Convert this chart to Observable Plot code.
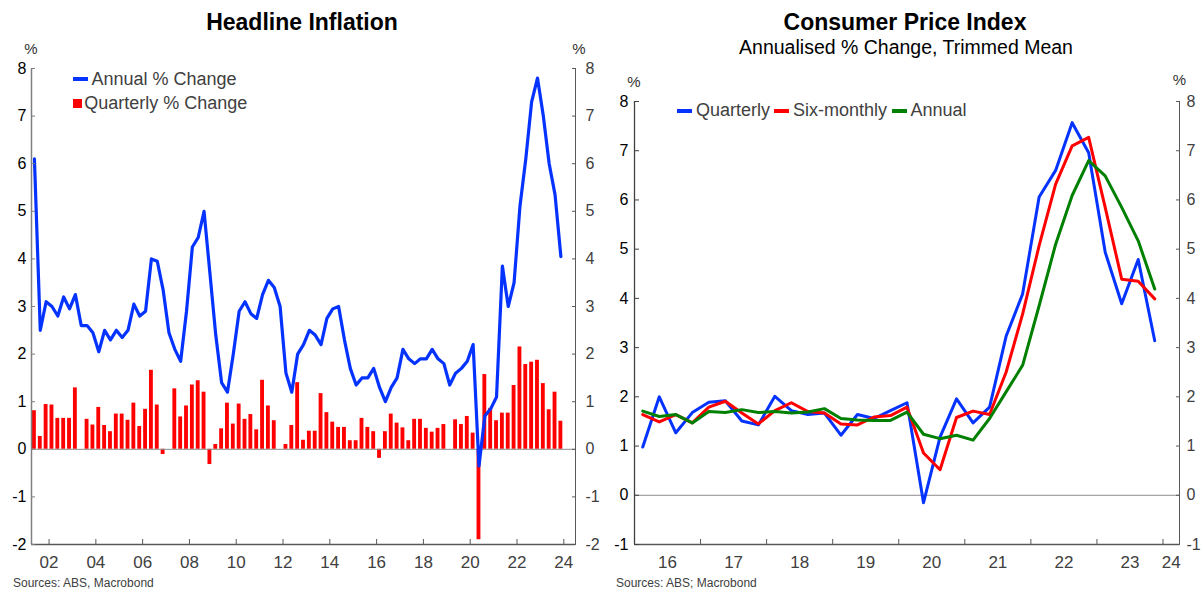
<!DOCTYPE html>
<html>
<head>
<meta charset="utf-8">
<script src="https://cdn.jsdelivr.net/npm/d3@7"></script>
<script src="https://cdn.jsdelivr.net/npm/@observablehq/plot@0.6"></script>
<style>
  html, body { margin: 0; padding: 0; background: #fff; }
  #root { position: relative; width: 1203px; height: 591px; overflow: hidden; font-family: "Liberation Sans", Arial, sans-serif; }
  .abs { position: absolute; white-space: nowrap; line-height: 1; }
  .ctr { transform: translateX(-50%); }
  .title { font-weight: bold; font-size: 23px; color: #000; }
  .sub { font-size: 19.5px; color: #000; }
  .pct { font-size: 15px; color: #333; }
  .leg { font-size: 18px; color: #404040; }
  .src { font-size: 12px; color: #404040; }
  .sw { position: absolute; }
  svg { position: absolute; top: 0; overflow: visible; }
</style>
</head>
<body>
<div id="root"></div>
<script>
// ---------------- DATA ----------------
// Headline Inflation: quarterly observations from 2001 Q2 to 2023 Q4
const headlineStart = [2001, 2];
const headlineAnnual = [6.1,2.5,3.1,3.0,2.8,3.2,2.95,3.25,2.6,2.6,
  2.45,2.05,2.5,2.3,2.5,2.35,2.5,3.05,2.8,2.9,
  4.0,3.95,3.35,2.45,2.1,1.85,2.9,4.25,4.45,5.0,
  3.7,2.4,1.4,1.2,2.0,2.9,3.1,2.85,2.75,3.25,
  3.55,3.4,3.0,1.6,1.2,2.0,2.2,2.5,2.4,2.2,
  2.75,2.95,3.0,2.3,1.7,1.35,1.5,1.5,1.7,1.3,
  1.0,1.3,1.5,2.1,1.9,1.8,1.9,1.9,2.1,1.9,
  1.8,1.35,1.6,1.7,1.85,2.2,-0.35,0.7,0.85,1.1,
  3.85,3.0,3.5,5.1,6.1,7.3,7.8,7.0,6.0,5.35,4.05];
const headlineQuarterly = [0.81,0.27,0.94,0.93,0.65,0.65,0.65,1.29,0,0.63,
  0.51,0.88,0.50,0.37,0.74,0.74,0.61,0.97,0.48,0.84,
  1.66,0.93,-0.11,0,1.27,0.68,0.91,1.35,1.44,1.2,
  -0.32,0.1,0.43,0.97,0.53,0.95,0.63,0.73,0.41,1.45,
  0.91,0.6,0,0.1,0.5,1.4,0.19,0.38,0.38,1.17,
  0.77,0.57,0.46,0.46,0.18,0.18,0.65,0.46,0.37,-0.19,
  0.37,0.74,0.55,0.45,0.18,0.63,0.63,0.44,0.36,0.44,
  0.52,0,0.62,0.52,0.69,0.34,-1.9,1.57,0.86,0.6,
  0.76,0.76,1.34,2.15,1.78,1.83,1.87,1.38,0.83,1.2,0.59];

// Consumer Price Index, trimmed mean annualised: 2016 Q1 to 2023 Q4
const tmStart = [2016, 1];
const tmQuarterly = [0.98,2.0,1.27,1.68,1.89,1.92,1.51,1.43,2.01,1.72,1.64,1.67,1.22,1.64,1.56,1.72,
  1.88,-0.15,1.18,1.96,1.47,1.79,3.23,4.09,6.06,6.6,7.57,6.96,4.94,3.89,4.79,3.14];
const tmSixMonthly = [1.64,1.49,1.64,1.47,1.79,1.91,1.67,1.45,1.72,1.88,1.70,1.67,1.45,1.43,1.59,1.62,
  1.79,0.86,0.52,1.58,1.71,1.64,2.5,3.68,5.07,6.32,7.1,7.27,5.85,4.39,4.35,3.99];
const tmAnnual = [1.71,1.6,1.64,1.47,1.70,1.68,1.74,1.68,1.70,1.67,1.69,1.76,1.56,1.53,1.52,1.52,
  1.69,1.24,1.15,1.22,1.12,1.56,2.1,2.64,3.85,5.1,6.09,6.8,6.49,5.85,5.17,4.19];

// Tick values and labels
const leftYTicks = [-2,-1,0,1,2,3,4,5,6,7,8];
const leftXTicks = [2002,2004,2006,2008,2010,2012,2014,2016,2018,2020,2022,2024];
const leftXLabels = ["02","04","06","08","10","12","14","16","18","20","22","24"];
const rightYTicks = [-1,0,1,2,3,4,5,6,7,8];
const rightYearStarts = [2016,2017,2018,2019,2020,2021,2022,2023,2024];
const rightXLabels = ["16","17","18","19","20","21","22","23","24"];
const rightXTicks = [2017,2018,2019,2020,2021,2022,2023,2024];

const leftXDomain = [2001.25, 2024.5];
const leftYDomain = [-2, 8];
const rightXDomain = [2016, 2024.25];
const rightYDomain = [-1, 8];

// ---------------- HELPERS ----------------
const BLUE = "#0433ff", RED = "#ff0000", GREEN = "#008000";
const FONT = "Liberation Sans, Arial, sans-serif";

function quarterRows(start, n) {
  return Array.from({length: n}, (_, i) => {
    const t0 = start[0] + (start[1] - 1 + i) / 4;
    return {t0, t1: t0 + 0.25, t: t0 + 0.125};
  });
}
const hRows = quarterRows(headlineStart, headlineAnnual.length).map((r, i) => ({
  ...r, annual: headlineAnnual[i], quarterly: headlineQuarterly[i]
}));
const tmRowsBase = quarterRows(tmStart, tmQuarterly.length);
const tmLong = [
  ...tmRowsBase.map((r, i) => ({t: r.t, v: tmQuarterly[i], s: "Quarterly"})),
  ...tmRowsBase.map((r, i) => ({t: r.t, v: tmSixMonthly[i], s: "Six-monthly"})),
  ...tmRowsBase.map((r, i) => ({t: r.t, v: tmAnnual[i], s: "Annual"}))
];
const rightLabelPos = rightYearStarts.map(y => (Math.max(y, rightXDomain[0]) + Math.min(y + 1, rightXDomain[1])) / 2);

// ---------------- LEFT CHART ----------------
const leftPlot = Plot.plot({
  width: 600, height: 591,
  marginLeft: 31, marginRight: 25, marginTop: 68, marginBottom: 47,
  x: {domain: leftXDomain},
  y: {domain: leftYDomain},
  style: {background: "transparent", fontFamily: FONT},
  marks: [
    Plot.rectY(hRows, {x1: "t0", x2: "t1", y: "quarterly", fill: RED, insetLeft: 1, insetRight: 1}),
    Plot.ruleY([0], {stroke: "#8c8c8c", strokeWidth: 1}),
    Plot.lineY(hRows, {x: "t", y: "annual", stroke: BLUE, strokeWidth: 3.2}),
    Plot.ruleX([leftXDomain[0]], {stroke: "#7f7f7f", strokeWidth: 1.5}),
    Plot.ruleX([leftXDomain[1]], {stroke: "#595959", strokeWidth: 1}),
    Plot.ruleY([leftYDomain[0]], {stroke: "#595959", strokeWidth: 1.5}),
    Plot.axisY(leftYTicks, {anchor: "left", tickSize: 4, insetLeft: 4, fill: "none", stroke: "#7f7f7f", label: null}),
    Plot.axisY(leftYTicks, {anchor: "right", tickSize: 4, insetRight: 4, fill: "none", stroke: "#595959", label: null}),
    Plot.axisY(leftYTicks, {anchor: "left", tickSize: 0, tickPadding: 5, fill: "#000", fontSize: 16, tickFormat: d => String(d), label: null}),
    Plot.axisY(leftYTicks, {anchor: "right", tickSize: 0, tickPadding: 10, fill: "#404040", fontSize: 16, tickFormat: d => String(d), label: null}),
    Plot.axisX(leftXTicks, {anchor: "bottom", tickSize: 5, insetBottom: 5, fill: "none", stroke: "#595959", label: null}),
    Plot.axisX(leftXTicks, {anchor: "bottom", tickSize: 0, tickPadding: 11, fill: "#404040", fontSize: 17, tickFormat: d => leftXLabels[leftXTicks.indexOf(d)], label: null})
  ]
});

// ---------------- RIGHT CHART ----------------
const rightPlot = Plot.plot({
  width: 603, height: 591,
  marginLeft: 34, marginRight: 24, marginTop: 101, marginBottom: 47,
  x: {domain: rightXDomain},
  y: {domain: rightYDomain},
  color: {domain: ["Quarterly", "Six-monthly", "Annual"], range: [BLUE, RED, GREEN]},
  style: {background: "transparent", fontFamily: FONT},
  marks: [
    Plot.ruleY([0], {stroke: "#8c8c8c", strokeWidth: 1}),
    Plot.lineY(tmLong, {x: "t", y: "v", z: "s", stroke: "s", strokeWidth: 3}),
    Plot.ruleX([rightXDomain[0]], {stroke: "#404040", strokeWidth: 1.3}),
    Plot.ruleX([rightXDomain[1]], {stroke: "#595959", strokeWidth: 1}),
    Plot.ruleY([rightYDomain[0]], {stroke: "#595959", strokeWidth: 1.5}),
    Plot.axisY(rightYTicks, {anchor: "left", tickSize: 5, insetLeft: 5, fill: "none", stroke: "#404040", label: null}),
    Plot.axisY(rightYTicks, {anchor: "right", tickSize: 4, insetRight: 4, fill: "none", stroke: "#595959", label: null}),
    Plot.axisY(rightYTicks, {anchor: "left", tickSize: 0, tickPadding: 6, fill: "#000", fontSize: 16, tickFormat: d => String(d), label: null}),
    Plot.axisY(rightYTicks, {anchor: "right", tickSize: 0, tickPadding: 7, fill: "#404040", fontSize: 16, tickFormat: d => String(d), label: null}),
    Plot.axisX(rightXTicks, {anchor: "bottom", tickSize: 5, insetBottom: 5, fill: "none", stroke: "#595959", label: null}),
    Plot.axisX(rightLabelPos, {anchor: "bottom", tickSize: 0, tickPadding: 11, fill: "#404040", fontSize: 17, tickFormat: d => rightXLabels[rightLabelPos.indexOf(d)], label: null})
  ]
});

// ---------------- ASSEMBLE ----------------
const root = document.getElementById("root");
leftPlot.style.left = "0px";
rightPlot.style.left = "600px";
root.appendChild(leftPlot);
root.appendChild(rightPlot);

function addText(txt, cls, left, baseline, fs, center) {
  const d = document.createElement("div");
  d.className = "abs " + cls + (center ? " ctr" : "");
  d.textContent = txt;
  d.style.left = left + "px";
  d.style.top = (baseline - 0.8465 * fs) + "px";
  root.appendChild(d);
}
function addSwatch(color, left, top, w, h) {
  const s = document.createElement("div");
  s.className = "sw";
  Object.assign(s.style, {left: left + "px", top: top + "px", width: w + "px", height: h + "px", background: color});
  root.appendChild(s);
}

addText("Headline Inflation", "title", 302, 30.7, 23, true);
addText("Consumer Price Index", "title", 905, 30.7, 23, true);
addText("Annualised % Change, Trimmed Mean", "sub", 906, 55, 19.5, true);
addText("%", "pct", 31, 54, 15, true);
addText("%", "pct", 579, 54, 15, true);
addText("%", "pct", 634, 86.7, 15, true);
addText("%", "pct", 1179.5, 85, 15, true);

// left legend
addSwatch(BLUE, 73, 77.3, 15, 3.5);
addText("Annual % Change", "leg", 91.5, 85, 18, false);
addSwatch(RED, 73, 99, 9, 9);
addText("Quarterly % Change", "leg", 84.3, 109.5, 18, false);

// right legend
addSwatch(BLUE, 677, 109, 15, 3.6);
addText("Quarterly", "leg", 696, 116.5, 18, false);
addSwatch(RED, 774, 109, 15, 3.6);
addText("Six-monthly", "leg", 793, 116.5, 18, false);
addSwatch(GREEN, 892, 109, 15, 3.6);
addText("Annual", "leg", 910.5, 116.5, 18, false);

addText("Sources: ABS, Macrobond", "src", 13, 587, 12, false);
addText("Sources: ABS; Macrobond", "src", 616, 587, 12, false);
</script>
</body>
</html>
